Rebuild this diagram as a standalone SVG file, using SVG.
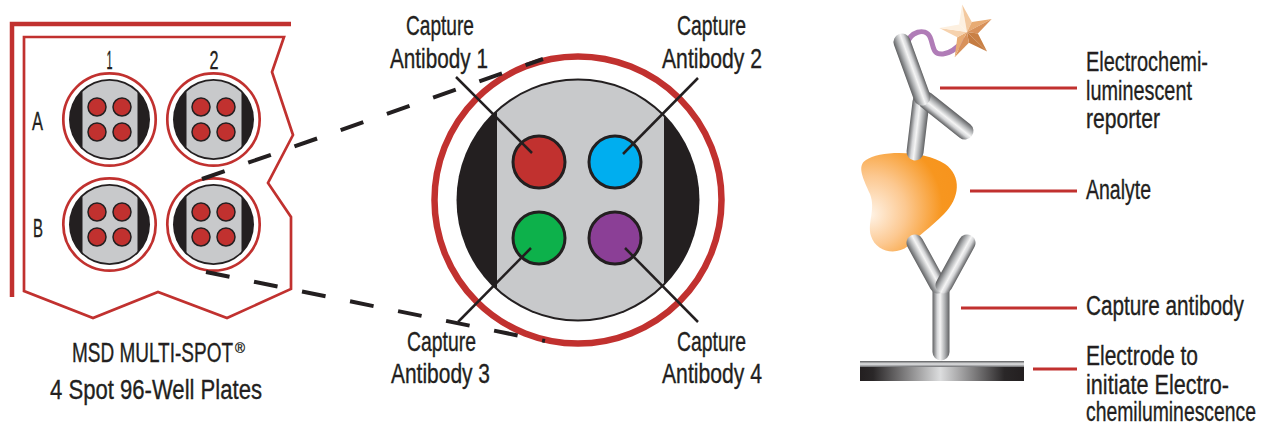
<svg xmlns="http://www.w3.org/2000/svg" width="1264" height="425" viewBox="0 0 1264 425">
  <defs>
    <style>
      text { font-family: "Liberation Sans", Arial, sans-serif; fill: #231f20; stroke: #231f20; stroke-width: 0.35; }
      .lbl { font-size: 27px; }
      .rl { font-size: 28px; }
      .idx { font-size: 25px; }
      .ring { fill: #ffffff; stroke: #c1312f; }
      .disc { fill: #231f20; }
      .band { fill: #c8c9cb; }
      .spot { fill: #c1312f; stroke: #231f20; stroke-width: 1.5; }
      .bigspot { stroke: #231f20; stroke-width: 3; }
      .plate { fill: none; stroke: #c1312f; stroke-width: 2.7; stroke-linejoin: miter; }
      .dash { fill: none; stroke: #231f20; stroke-width: 4; stroke-dasharray: 24 25; }
      .lead { stroke: #231f20; stroke-width: 2.5; }
      .redlead { stroke: #c1312f; stroke-width: 3; }
      .cyl { fill: url(#cylGrad); }
    </style>
    <linearGradient id="cylGrad" x1="0" y1="0" x2="1" y2="0">
      <stop offset="0" stop-color="#5f6062"/>
      <stop offset="0.28" stop-color="#d5d6d8"/>
      <stop offset="0.45" stop-color="#f5f5f5"/>
      <stop offset="0.72" stop-color="#b0b2b4"/>
      <stop offset="1" stop-color="#606163"/>
    </linearGradient>
    <linearGradient id="elecGrad" x1="0" y1="0" x2="1" y2="0">
      <stop offset="0" stop-color="#231f20"/>
      <stop offset="0.08" stop-color="#2a2728"/>
      <stop offset="0.49" stop-color="#dcddde"/>
      <stop offset="0.88" stop-color="#2a2728"/>
      <stop offset="1" stop-color="#231f20"/>
    </linearGradient>
    <linearGradient id="stripGrad" x1="0" y1="0" x2="0" y2="1">
      <stop offset="0" stop-color="#58595b"/>
      <stop offset="0.5" stop-color="#e6e7e8"/>
      <stop offset="1" stop-color="#6d6e71"/>
    </linearGradient>
    <radialGradient id="analyteGrad" gradientUnits="userSpaceOnUse" cx="872" cy="205" r="88" fx="870" fy="215">
      <stop offset="0" stop-color="#fff3e6"/>
      <stop offset="0.4" stop-color="#fcc890"/>
      <stop offset="0.8" stop-color="#f7961f"/>
      <stop offset="1" stop-color="#f7941d"/>
    </radialGradient>
    <clipPath id="wellClip"><circle cx="0" cy="0" r="38.8"/></clipPath>
    <clipPath id="bigClip"><circle cx="578" cy="200" r="119.5"/></clipPath>
    <!-- one well of the plate, drawn around the origin -->
    <g id="well">
      <circle r="46.2" class="ring" stroke-width="2.7"/>
      <circle r="40.5" class="disc"/>
      <rect x="-27" y="-41" width="55" height="82" class="band" clip-path="url(#wellClip)"/>
      <circle cx="-12.5" cy="-12.5" r="9" class="spot"/>
      <circle cx="12.5" cy="-12.5" r="9" class="spot"/>
      <circle cx="-12.5" cy="12.5" r="9" class="spot"/>
      <circle cx="12.5" cy="12.5" r="9" class="spot"/>
    </g>
  </defs>

  <rect width="1264" height="425" fill="#ffffff"/>

  <!-- 96-well plate corner -->
  <g id="plate">
    <polyline points="12,297 12,24 291,24" fill="none" stroke="#c1312f" stroke-width="4.5"/>
    <polygon class="plate" points="24,37 284,37 272,72 293,135 268,183 291,217 291,289 227,318 158,292 93,318 24,291"/>
    <text class="idx" x="109.5" y="69" text-anchor="middle" textLength="6" lengthAdjust="spacingAndGlyphs">1</text>
    <text class="idx" x="214" y="69" text-anchor="middle" textLength="9" lengthAdjust="spacingAndGlyphs">2</text>
    <text class="idx" x="37.5" y="130" text-anchor="middle" textLength="11" lengthAdjust="spacingAndGlyphs">A</text>
    <text class="idx" x="38" y="237" text-anchor="middle" textLength="10" lengthAdjust="spacingAndGlyphs">B</text>
  </g>
  <g id="well-A1"><use href="#well" transform="translate(109.5,119.5)"/></g>
  <g id="well-A2"><use href="#well" transform="translate(213.5,119.5)"/></g>
  <g id="well-B1"><use href="#well" transform="translate(109.5,224.5)"/></g>
  <g id="well-B2"><use href="#well" transform="translate(213.5,224.5)"/></g>

  <!-- captions are set in a condensed cut: horizontal scale 0.72 -->
  <g id="plate-caption">
    <text class="rl" transform="translate(72,362) scale(0.72,1)" textLength="223.6" lengthAdjust="spacingAndGlyphs">MSD MULTI-SPOT</text>
    <text x="235" y="353" font-size="15" stroke-width="0.1" textLength="10" lengthAdjust="spacingAndGlyphs">®</text>
    <text class="rl" transform="translate(50,399) scale(0.72,1)" textLength="294.4" lengthAdjust="spacingAndGlyphs">4 Spot 96-Well Plates</text>
  </g>

  <!-- enlarged single well -->
  <g id="well-detail">
    <circle cx="578" cy="200" r="143.5" class="ring" stroke-width="6.5"/>
    <circle cx="578" cy="200" r="121.5" class="disc"/>
    <rect x="497" y="78" width="167" height="244" class="band" clip-path="url(#bigClip)"/>
    <circle cx="539" cy="162" r="26" class="bigspot" fill="#c1312f"/>
    <circle cx="615" cy="162" r="26" class="bigspot" fill="#00aeef"/>
    <circle cx="539" cy="238" r="26" class="bigspot" fill="#0db14b"/>
    <circle cx="615" cy="238" r="26" class="bigspot" fill="#8b3f96"/>
  </g>

  <g id="spot-labels">
    <text class="lbl" transform="translate(406,35) scale(0.72,1)" textLength="94.4" lengthAdjust="spacingAndGlyphs">Capture</text>
    <text class="lbl" transform="translate(390,68) scale(0.72,1)" textLength="136.1" lengthAdjust="spacingAndGlyphs">Antibody 1</text>
    <text class="lbl" transform="translate(677,35) scale(0.72,1)" textLength="95.8" lengthAdjust="spacingAndGlyphs">Capture</text>
    <text class="lbl" transform="translate(662,68) scale(0.72,1)" textLength="138.9" lengthAdjust="spacingAndGlyphs">Antibody 2</text>
    <text class="lbl" transform="translate(407,351) scale(0.72,1)" textLength="95.8" lengthAdjust="spacingAndGlyphs">Capture</text>
    <text class="lbl" transform="translate(391,383) scale(0.72,1)" textLength="137.5" lengthAdjust="spacingAndGlyphs">Antibody 3</text>
    <text class="lbl" transform="translate(677,351) scale(0.72,1)" textLength="95.8" lengthAdjust="spacingAndGlyphs">Capture</text>
    <text class="lbl" transform="translate(662,383) scale(0.72,1)" textLength="138.9" lengthAdjust="spacingAndGlyphs">Antibody 4</text>
  </g>

  <!-- sandwich assay illustration -->
  <g id="electrode">
    <rect x="860" y="367" width="164" height="14" fill="url(#elecGrad)"/>
    <rect x="860" y="361" width="164" height="6" fill="url(#stripGrad)"/>
  </g>
  <g id="analyte">
    <path d="M866,160 C880,150 925,150 945,164 C962,176 960,198 944,214 C930,228 918,236 908,246 C896,256 876,252 871,236 C867,222 876,210 870,194 C864,180 856,166 866,160 Z" fill="url(#analyteGrad)"/>
  </g>
  <g id="capture-antibody">
    <rect class="cyl" x="932.5" y="279.5" width="17" height="81" rx="8.5"/>
    <rect class="cyl" x="-8.5" y="-8.5" width="17" height="64.9" rx="8.5" transform="translate(938,285) rotate(151.3)"/>
    <rect class="cyl" x="-8.5" y="-8.5" width="17" height="64.9" rx="8.5" transform="translate(944,285) rotate(-151.3)"/>
  </g>
  <g id="reporter-antibody">
    <path d="M907,44 C910,32 925,27 930,37 C934,46 932,55 943,54 C952,53 958,47 964,40" fill="none" stroke="#b07cb7" stroke-width="5" stroke-linecap="round"/>
    <rect class="cyl" x="-8.5" y="-8.5" width="17" height="67.4" rx="8.5" transform="translate(921,102) rotate(6.8)"/>
    <rect class="cyl" x="-8.5" y="-8.5" width="17" height="66.8" rx="8.5" transform="translate(926,100) rotate(-51.5)"/>
    <rect class="cyl" x="-8.5" y="-8.5" width="17" height="75.5" rx="8.5" transform="translate(922,97) rotate(160)"/>
  </g>
  <g id="ecl-label">
    <polygon points="967,32 962.1,4.4 959.1,24.4" fill="#fdf0e0"/>
    <polygon points="967,32 962.1,4.4 971.8,22.1" fill="#f3c99f"/>
    <polygon points="967,32 991.7,18.9 971.8,22.1" fill="#e8ab73"/>
    <polygon points="967,32 991.7,18.9 977.9,33.5" fill="#d8915a"/>
    <polygon points="967,32 987.1,51.5 977.9,33.5" fill="#c98045"/>
    <polygon points="967,32 987.1,51.5 968.9,42.8" fill="#c57c42"/>
    <polygon points="967,32 954.7,57.2 968.9,42.8" fill="#d8915a"/>
    <polygon points="967,32 954.7,57.2 957.3,37.2" fill="#e8ab73"/>
    <polygon points="967,32 939.3,28.1 957.3,37.2" fill="#f6d2ae"/>
    <polygon points="967,32 939.3,28.1 959.1,24.4" fill="#fdf0e0"/>
  </g>

  <g id="assay-labels">
    <text class="rl" transform="translate(1086,71) scale(0.72,1)" textLength="169.4" lengthAdjust="spacingAndGlyphs">Electrochemi-</text>
    <text class="rl" transform="translate(1086,100) scale(0.72,1)" textLength="147.2" lengthAdjust="spacingAndGlyphs">luminescent</text>
    <text class="rl" transform="translate(1086,128) scale(0.72,1)" textLength="102.8" lengthAdjust="spacingAndGlyphs">reporter</text>
    <text class="rl" transform="translate(1086,199) scale(0.72,1)" textLength="90.3" lengthAdjust="spacingAndGlyphs">Analyte</text>
    <text class="rl" transform="translate(1086,315) scale(0.72,1)" textLength="219.4" lengthAdjust="spacingAndGlyphs">Capture antibody</text>
    <text class="rl" transform="translate(1086,365) scale(0.72,1)" textLength="155.6" lengthAdjust="spacingAndGlyphs">Electrode to</text>
    <text class="rl" transform="translate(1086,394) scale(0.72,1)" textLength="198.6" lengthAdjust="spacingAndGlyphs">initiate Electro-</text>
    <text class="rl" transform="translate(1086,421) scale(0.72,1)" textLength="236.1" lengthAdjust="spacingAndGlyphs">chemiluminescence</text>
  </g>

  <g id="connectors">
    <line class="dash" x1="202" y1="179" x2="543" y2="59"/>
    <line class="dash" x1="206" y1="272" x2="545" y2="341"/>
    <line class="lead" x1="456" y1="77" x2="532" y2="153"/>
    <line class="lead" x1="698" y1="78" x2="623" y2="154"/>
    <line class="lead" x1="531" y1="248" x2="458" y2="322"/>
    <line class="lead" x1="625" y1="248" x2="698" y2="322"/>
    <line class="redlead" x1="940" y1="88" x2="1077" y2="88"/>
    <line class="redlead" x1="970" y1="191" x2="1077" y2="191"/>
    <line class="redlead" x1="961" y1="308" x2="1077" y2="308"/>
    <line class="redlead" x1="1033" y1="369" x2="1077" y2="369"/>
  </g>
</svg>
